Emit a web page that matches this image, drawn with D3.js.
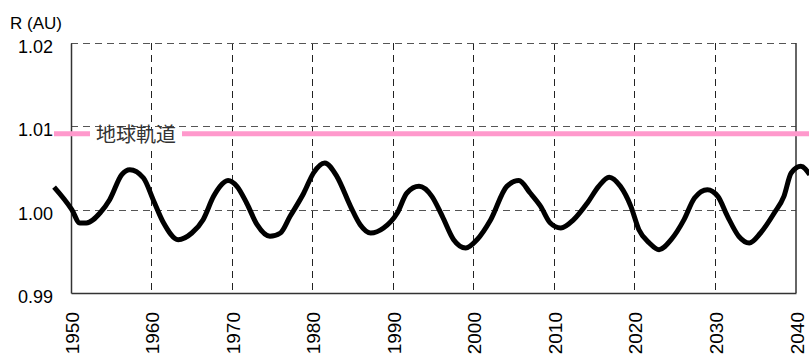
<!DOCTYPE html>
<html>
<head>
<meta charset="utf-8">
<script src="https://cdn.jsdelivr.net/npm/d3@7"></script>
<style>
  html, body { margin: 0; padding: 0; background: #fff; }
  svg { display: block; }
</style>
</head>
<body>
<svg id="chart" width="809" height="356"></svg>
<script>
'use strict';

// Earth-Sun distance R (AU) by year.
const years = [1947.9, 1950.1, 1951.1, 1951.9, 1953.6, 1954.8, 1956.3, 1957.3, 1959.0, 1960.2,
  1961.5, 1963.3, 1965.0, 1966.4, 1967.7, 1968.5, 1969.5, 1970.6, 1971.8, 1973.1,
  1974.7, 1976.0, 1977.2, 1978.9, 1980.1, 1981.5, 1983.0, 1984.7, 1985.9, 1987.2,
  1988.8, 1990.5, 1991.7, 1993.2, 1994.8, 1996.1, 1997.5, 1999.0, 2000.4, 2002.1,
  2004.1, 2005.6, 2007.0, 2008.3, 2009.5, 2010.8, 2012.4, 2014.1, 2015.5, 2016.8,
  2018.2, 2019.5, 2020.5, 2021.8, 2023.0, 2024.5, 2026.1, 2027.4, 2029.0, 2030.3,
  2031.5, 2032.9, 2034.2, 2035.6, 2037.3, 2038.5, 2039.4, 2040.6, 2041.7];
const distances = [1.0027, 1.0000, 0.9984, 0.9984, 0.9996, 1.0012, 1.0042, 1.0048, 1.0038, 1.0012,
  0.9984, 0.9964, 0.9972, 0.9988, 1.0016, 1.0028, 1.0035, 1.0028, 1.0008, 0.9982,
  0.9968, 0.9972, 0.9992, 1.0020, 1.0044, 1.0056, 1.0040, 1.0004, 0.9982, 0.9972,
  0.9978, 0.9996, 1.0020, 1.0028, 1.0016, 0.9992, 0.9964, 0.9954, 0.9964, 0.9988,
  1.0028, 1.0035, 1.0020, 1.0004, 0.9984, 0.9978, 0.9988, 1.0008, 1.0028, 1.0039,
  1.0028, 1.0004, 0.9976, 0.9960, 0.9952, 0.9964, 0.9988, 1.0014, 1.0024, 1.0016,
  0.9992, 0.9968, 0.9960, 0.9972, 0.9996, 1.0016, 1.0044, 1.0052, 1.0042];

const xTicks = [1950, 1960, 1970, 1980, 1990, 2000, 2010, 2020, 2030, 2040];
const yTicks = [0.99, 1.00, 1.01, 1.02];
const orbitValue = [1.0091];
const orbitLabel = '地球軌道';
const yTitle = 'R (AU)';

const M = { left: 71, right: 796, top: 43, bottom: 293 };
const FONT = '"Liberation Sans", Arial, sans-serif';

const svg = d3.select('#chart');

const x = d3.scaleLinear().domain([1950, 2040]).range([M.left, M.right]);
const y = d3.scaleLinear().domain([0.99, 1.02]).range([M.bottom, M.top]);

// ---- grid -------------------------------------------------------------
const grid = svg.append('g');
grid.selectAll('line.v')
  .data(xTicks.slice(1, -1))
  .join('line')
  .attr('x1', d => x(d)).attr('x2', d => x(d))
  .attr('y1', M.top).attr('y2', M.bottom)
  .attr('stroke', '#222').attr('stroke-width', 1)
  .attr('stroke-dasharray', '7,5')
  .attr('shape-rendering', 'crispEdges');

grid.selectAll('line.h')
  .data(yTicks.slice(1))
  .join('line')
  .attr('x1', M.left).attr('x2', M.right)
  .attr('y1', d => Math.round(y(d)) + 0.5).attr('y2', d => Math.round(y(d)) + 0.5)
  .attr('stroke', '#555').attr('stroke-width', 1)
  .attr('stroke-dasharray', '7,5');

// ---- frame (left, bottom, right solid) --------------------------------
const axisBottom = d3.axisBottom(x).tickValues(xTicks).tickSize(0).tickFormat(d3.format('d'));
const gx = svg.append('g')
  .attr('transform', `translate(0,${M.bottom})`)
  .call(axisBottom);
gx.select('.domain').attr('stroke', '#333').attr('stroke-width', 1.5);
gx.selectAll('text')
  .attr('font-family', FONT).attr('font-size', 19).attr('fill', '#000')
  .attr('text-anchor', 'end')
  .attr('dy', null)
  .attr('transform', 'rotate(-90)')
  .attr('x', -19).attr('y', 7);

const axisLeft = d3.axisLeft(y).tickValues(yTicks).tickSize(0).tickFormat(d3.format('.2f'));
const gy = svg.append('g')
  .attr('transform', `translate(${M.left},0)`)
  .call(axisLeft);
gy.select('.domain').attr('stroke', '#333').attr('stroke-width', 1.5);
gy.selectAll('text')
  .attr('font-family', FONT).attr('font-size', 18).attr('fill', '#000')
  .attr('x', -18).attr('dy', '0.75em').attr('y', -4);

svg.append('line')
  .attr('x1', M.right).attr('x2', M.right)
  .attr('y1', M.top).attr('y2', M.bottom)
  .attr('stroke', '#333').attr('stroke-width', 1.5);

svg.append('text')
  .attr('x', 10).attr('y', 29)
  .attr('font-family', FONT).attr('font-size', 17)
  .text(yTitle);

// ---- earth orbit reference line ---------------------------------------
const orbit = svg.append('g');
orbit.selectAll('line')
  .data(orbitValue)
  .join('line')
  .attr('x1', 54).attr('x2', 809)
  .attr('y1', d => y(d)).attr('y2', d => y(d))
  .attr('stroke', '#ff99cc').attr('stroke-width', 5);
orbit.append('rect')
  .attr('x', 90).attr('width', 92)
  .attr('y', y(orbitValue[0]) - 3.5).attr('height', 7)
  .attr('fill', '#fff');
orbit.append('rect')
  .attr('x', 95).attr('width', 82)
  .attr('y', y(orbitValue[0]) - 5).attr('height', 18)
  .attr('fill', '#fff');
orbit.append('text')
  .attr('x', 136).attr('y', y(orbitValue[0]) + 8)
  .attr('text-anchor', 'middle')
  .attr('font-family', '"Noto Sans CJK JP", sans-serif')
  .attr('font-size', 20).attr('fill', '#333')
  .text(orbitLabel);

// ---- distance curve ---------------------------------------------------
const series = years.map((yr, i) => ({ year: yr, r: distances[i] }));
const line = d3.line()
  .x(d => x(d.year))
  .y(d => y(d.r))
  .curve(d3.curveMonotoneX);

svg.append('path')
  .datum(series)
  .attr('d', line)
  .attr('fill', 'none')
  .attr('stroke', '#000')
  .attr('stroke-width', 5)
  .attr('stroke-linejoin', 'round');
</script>
</body>
</html>
